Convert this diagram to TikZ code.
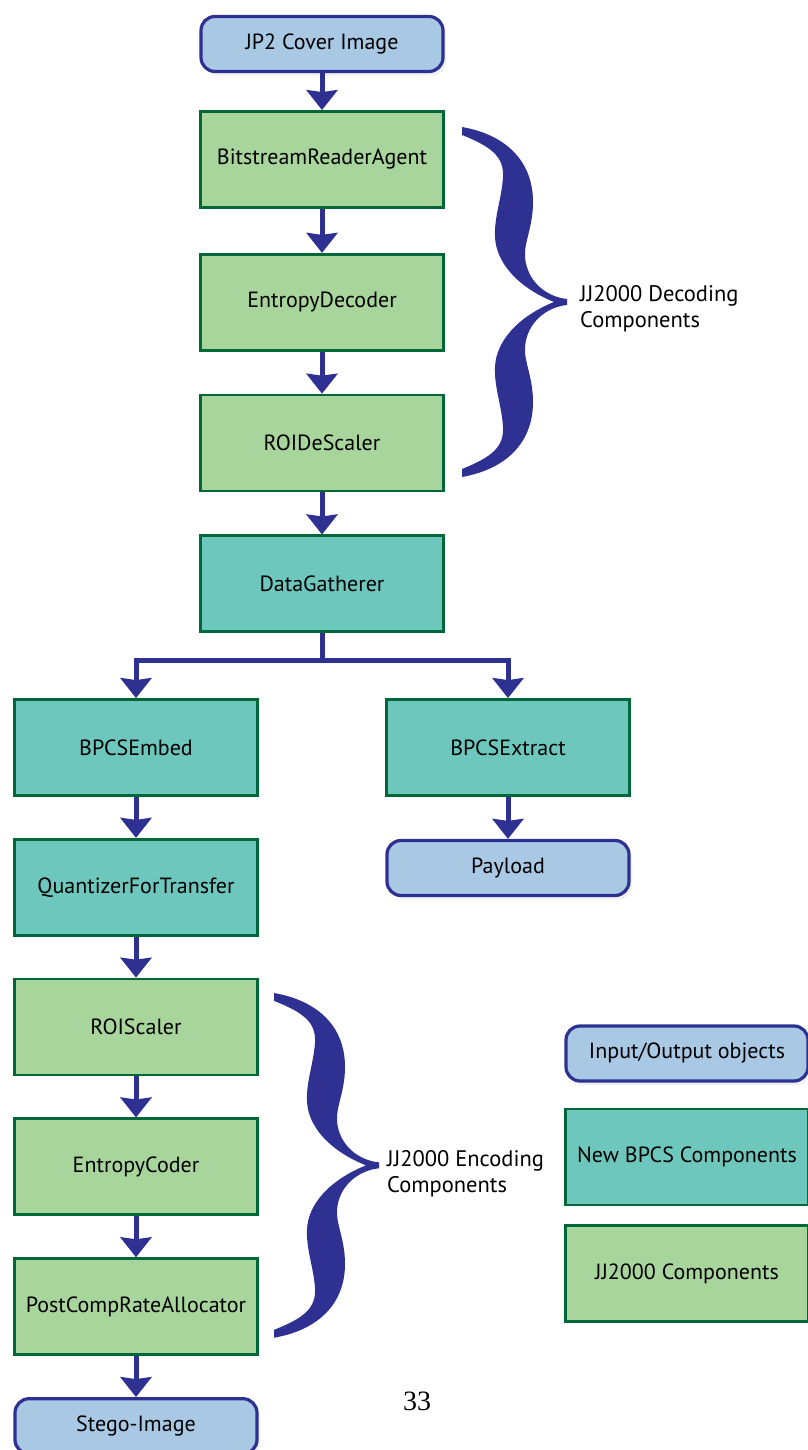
\documentclass[tikz,border=0pt]{standalone}
\usepackage{fontspec}
\setmainfont{PT Sans}
\newfontfamily\pagenofont{Liberation Serif}
\usepackage{tikz}
\usetikzlibrary{arrows.meta,positioning,shadows}
\definecolor{bpcsioblue}{RGB}{169,200,227}
\definecolor{bpcsnavy}{RGB}{46,49,146}
\definecolor{bpcsteal}{RGB}{109,199,189}
\definecolor{bpcsgreen}{RGB}{168,213,155}
\definecolor{bpcsforest}{RGB}{0,104,56}
\tikzset{
  bpcsio/.style={draw=bpcsnavy, line width=3.2pt, rounded corners=14pt, fill=bpcsioblue, minimum width=242pt, minimum height=55pt, font=\fontsize{22}{26}\selectfont, drop shadow={opacity=0.12, shadow xshift=3pt, shadow yshift=-4pt}},
  bpcsnew/.style={draw=bpcsforest, line width=2.8pt, fill=bpcsteal, minimum width=243pt, minimum height=96pt, font=\fontsize{22}{26}\selectfont},
  bpcsjj/.style={bpcsnew, fill=bpcsgreen},
  bpcsarrow/.style={draw=bpcsnavy, line width=5pt, -{Stealth[length=20pt, width=31pt, inset=2pt]}},
  bpcslabel/.style={align=left, anchor=west, inner sep=0pt, font=\fontsize{22.5}{26}\selectfont},
  pics/bpcsbrace/.style={code={
    \fill[bpcsnavy, yscale=-1] (0,0) .. controls (45,8) and (71,35) .. (71,75)
      .. controls (71,100) and (62,115) .. (63,130)
      .. controls (65,155) and (85,170) .. (105,172) -- (105,178)
      .. controls (85,180) and (65,195) .. (63,220)
      .. controls (62,235) and (71,250) .. (71,275)
      .. controls (71,315) and (45,342) .. (0,350) -- (0,342)
      .. controls (30,330) and (42,320) .. (41,300)
      .. controls (40,280) and (32,260) .. (33,240)
      .. controls (34,215) and (55,190) .. (92,175)
      .. controls (55,160) and (34,135) .. (33,110)
      .. controls (32,90) and (40,70) .. (41,50)
      .. controls (42,30) and (30,20) .. (0,8) -- cycle;
  }}
}
\begin{document}
\begin{tikzpicture}[x=1pt, y=1pt, node distance=42pt]
\useasboundingbox (0,0) rectangle (807,1450);
\node[bpcsio] (cover) at (322,1406) {JP2 Cover Image};
\node[bpcsjj, below=37pt of cover] (reader) {BitstreamReaderAgent};
\node[bpcsjj, below=44pt of reader] (entdec) {EntropyDecoder};
\node[bpcsjj, below=of entdec] (roidesc) {ROIDeScaler};
\node[bpcsnew, below=of roidesc] (gather) {DataGatherer};

\node[bpcsnew] (embed) at (136,702.5) {BPCSEmbed};
\node[bpcsnew] (extract) at (508,702.5) {BPCSExtract};
\node[bpcsio, below=of extract] (payload) {Payload};
\node[bpcsnew, below=41pt of embed] (quant) {QuantizerForTransfer};
\node[bpcsjj, below=41pt of quant] (roisc) {ROIScaler};
\node[bpcsjj, below=41pt of roisc] (entcod) {EntropyCoder};
\node[bpcsjj, below=41pt of entcod] (alloc) {PostCompRateAllocator};
\node[bpcsio, below=41pt of alloc] (stego) {Stego-Image};

\node[bpcsio] (legio) at (687,396.5) {Input/Output objects};
\node[bpcsnew] (legnew) at (687,293) {New BPCS Components};
\node[bpcsjj] (legjj) at (687,176.5) {JJ2000 Components};

\draw[bpcsarrow] (cover.south) -- (reader.north);
\draw[bpcsarrow] (reader.south) -- (entdec.north);
\draw[bpcsarrow] (entdec.south) -- (roidesc.north);
\draw[bpcsarrow] (roidesc.south) -- (gather.north);
\draw[bpcsarrow] (gather.south) -- ++(0,-27) -| (embed.north);
\draw[bpcsarrow] (gather.south) -- ++(0,-27) -| (extract.north);
\draw[bpcsarrow] (extract.south) -- (payload.north);
\draw[bpcsarrow] (embed.south) -- (quant.north);
\draw[bpcsarrow] (quant.south) -- (roisc.north);
\draw[bpcsarrow] (roisc.south) -- (entcod.north);
\draw[bpcsarrow] (entcod.south) -- (alloc.north);
\draw[bpcsarrow] (alloc.south) -- (stego.north);

\pic at (462,1323) {bpcsbrace};
\node[bpcslabel] (declabel) at (580,1141) {JJ2000 Decoding\\Components};
\pic[yscale=0.985] at (274,457) {bpcsbrace};
\node[bpcslabel] (enclabel) at (387,276.5) {JJ2000 Encoding\\Components};
\node[font=\pagenofont\fontsize{28}{30}\selectfont] (pageno) at (417,49) {33};
\end{tikzpicture}
\end{document}
